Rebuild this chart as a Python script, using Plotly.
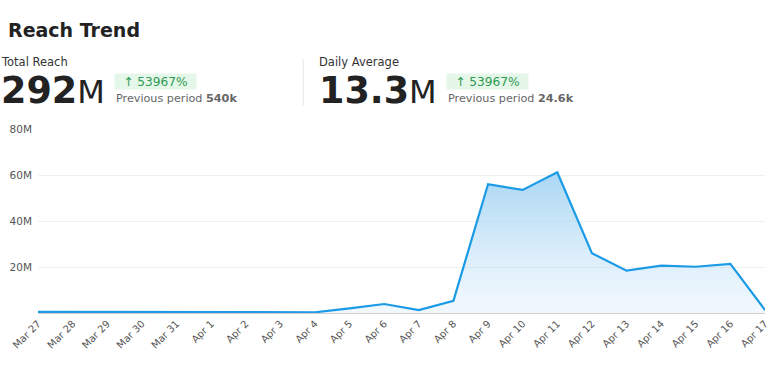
import plotly.graph_objects as go

dates = ["Mar 27", "Mar 28", "Mar 29", "Mar 30", "Mar 31", "Apr 1", "Apr 2", "Apr 3",
         "Apr 4", "Apr 5", "Apr 6", "Apr 7", "Apr 8", "Apr 9", "Apr 10", "Apr 11",
         "Apr 12", "Apr 13", "Apr 14", "Apr 15", "Apr 16", "Apr 17"]
reach_millions = [0.5, 0.5, 0.4, 0.3, 0.3, 0.6, 0.4, 0.3, 0.3, 2.0, 3.9, 1.3, 5.3,
                  56.0, 53.5, 61.2, 26.0, 18.4, 20.6, 20.1, 21.4, 1.3]
reach = [v * 1e6 for v in reach_millions]
ytick_vals = [20e6, 40e6, 60e6, 80e6]
ytick_text = ["20M", "40M", "60M", "80M"]

W, H = 780, 377
L, R, T, B = 38, 10, 129, 64
PW, PH = W - L - R, H - T - B


def px(x):
    return (x - L) / PW


def py(y):
    return (H - B - y) / PH


FONT = "DejaVu Sans, Verdana, sans-serif"

fig = go.Figure()
fig.add_trace(go.Scatter(
    x=dates, y=reach, mode="lines",
    line=dict(color="#1b9ae6", width=2.2),
    fill="tozeroy",
    fillgradient=dict(type="vertical",
                      colorscale=[[0, "rgba(215,236,250,0.35)"], [1, "rgba(140,200,240,0.75)"]]),
    hoverinfo="x+y",
))

ann = []


def text(x, y, t, size, color="#222", xanchor="left"):
    ann.append(dict(x=px(x), y=py(y), xref="paper", yref="paper", text=t, showarrow=False,
                    xanchor=xanchor, yanchor="middle", borderpad=0,
                    font=dict(family=FONT, size=size, color=color)))


def badge(x, y, t):
    ann.append(dict(x=px(x), y=py(y), xref="paper", yref="paper", text=t, showarrow=False,
                    xanchor="left", yanchor="middle", bgcolor="#e4f7e9", borderpad=0.5,
                    font=dict(family=FONT, size=12.2, color="#2f9a52")))


text(7, 30, "<b>Reach Trend</b>", 19, "#222")
text(0, 62.5, "Total Reach", 11.5, "#333")
text(0, 90, "<b>292</b><span style='font-size:32px'>M</span>", 36.5, "#222")
badge(115, 81, "&nbsp;&nbsp;↑ 53967%&nbsp;&nbsp;")
text(116, 98, "Previous period <b>540k</b>", 11.2, "#666")

text(320, 62.5, "Daily Average", 11.5, "#333")
text(320, 90, "<b>13.3</b><span style='font-size:32px'>M</span>", 36.5, "#222")
badge(449, 81, "&nbsp;&nbsp;↑ 53967%&nbsp;&nbsp;")
text(450, 98, "Previous period <b>24.6k</b>", 11.2, "#666")

fig.update_layout(
    width=W, height=H,
    margin=dict(l=L, r=R, t=T, b=B),
    paper_bgcolor="white", plot_bgcolor="white",
    showlegend=False,
    font=dict(family=FONT, size=10, color="#555"),
    annotations=ann,
    shapes=[dict(type="line", xref="paper", yref="paper", x0=px(305), x1=px(305),
                 y0=py(59), y1=py(106), line=dict(color="#e6e6e6", width=1))],
    xaxis=dict(type="category", range=[0, len(dates) - 1], tickangle=-45,
               showgrid=False, showline=True, linecolor="#d0d0d0", linewidth=1,
               ticks="", tickfont=dict(size=10, color="#555"), fixedrange=True),
    yaxis=dict(range=[0, 80e6], tickvals=ytick_vals, ticktext=ytick_text,
               showgrid=True, gridcolor="#f0f0f0", gridwidth=1, zeroline=False,
               showline=False, ticks="", ticklabelstandoff=5,
               tickfont=dict(size=10.5, color="#555"), fixedrange=True),
)

fig.write_html("out.html", config={"displayModeBar": False},
               post_script="document.body.style.margin='0px';")
